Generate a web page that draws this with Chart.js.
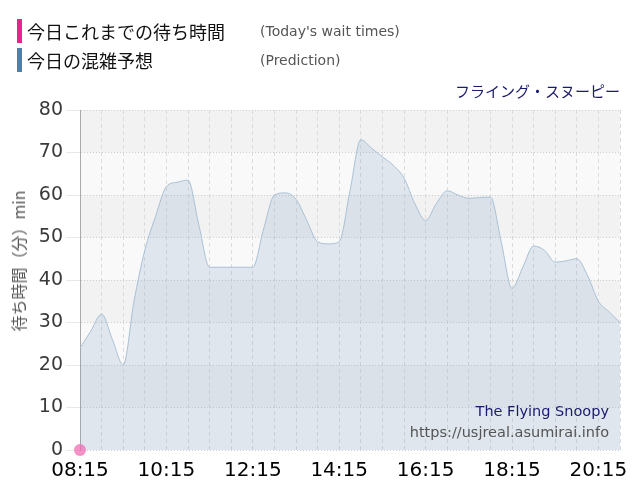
<!DOCTYPE html>
<html>
<head>
<meta charset="utf-8">
<script src="https://cdn.jsdelivr.net/npm/chart.js@4/dist/chart.umd.min.js"></script>
<style>
  body { margin: 0; background: #fff; font-family: "Noto Sans CJK JP", "DejaVu Sans", sans-serif; }
  #wrap { position: relative; width: 640px; height: 500px; }
  canvas { position: absolute; left: 0; top: 0; }
  .leg { position: absolute; left: 17px; height: 24px; line-height: 24px; font-size: 18px; color: #111; white-space: nowrap; }
  .leg .bar { display: inline-block; width: 5px; height: 24px; vertical-align: top; margin-right: 5px; }
  .leg .en { position: absolute; left: 243px; top: 0; font-size: 14px; color: #555; font-family: "DejaVu Sans", sans-serif; }
  #ride { position: absolute; right: 20px; top: 80px; font-size: 15px; color: #1a1a6e; white-space: nowrap; }
  #ytitle { position: absolute; left: 18px; top: 261px; transform: translate(-50%, -50%) rotate(-90deg); font-size: 16px; color: #555; white-space: nowrap; }
</style>
</head>
<body>
<div id="wrap">
  <canvas id="canvas" width="640" height="500"></canvas>
  <div class="leg" style="top:19px"><span class="bar" style="background:#f0208c"></span>今日これまでの待ち時間<span class="en">(Today's wait times)</span></div>
  <div class="leg" style="top:48px"><span class="bar" style="background:#4682b4"></span>今日の混雑予想<span class="en">(Prediction)</span></div>
  <div id="ride">フライング・スヌーピー</div>
  <div id="ytitle">待ち時間（分）min</div>
</div>
<script>
// times every 15 minutes, 08:15 - 20:45
var times = [];
for (var m = 8 * 60 + 15; m <= 20 * 60 + 45; m += 15) {
  var h = Math.floor(m / 60), mm = m % 60;
  times.push((h < 10 ? '0' : '') + h + ':' + (mm < 10 ? '0' : '') + mm);
}

// predicted wait (min)
var prediction = [24, 28, 32, 26, 20, 35, 47, 55, 62, 63, 63.5, 53, 43, 43, 43, 43, 43,
  52, 60, 60.5, 59, 54, 49, 48.5, 49, 61, 73, 71, 69, 67, 64, 58, 54, 58, 61,
  60, 59.2, 59.4, 59.5, 49, 38, 43, 48, 47, 44.2, 44.5, 45, 41, 35, 32.5, 30];

// today's actual wait (min), only first reading so far
var actual = [0];

var yTicks = [0, 10, 20, 30, 40, 50, 60, 70, 80];

var bands = {
  id: 'bands',
  beforeDraw: function(chart) {
    var ctx = chart.ctx, a = chart.chartArea, y = chart.scales.y;
    ctx.save();
    for (var i = 0; i < yTicks.length - 1; i++) {
      var top = y.getPixelForValue(yTicks[i + 1]), bot = y.getPixelForValue(yTicks[i]);
      ctx.fillStyle = (i % 2 == 0) ? '#f9f9f9' : '#f2f2f2';
      ctx.fillRect(a.left, top, a.right - a.left, bot - top);
    }
    ctx.restore();
  },
  afterDatasetsDraw: function(chart) {
    var ctx = chart.ctx, a = chart.chartArea;
    ctx.save();
    ctx.textAlign = 'right';
    ctx.font = '14.5px "DejaVu Sans"';
    ctx.fillStyle = '#1a1a6e';
    ctx.fillText('The Flying Snoopy', a.right - 11, 416);
    ctx.fillStyle = '#555';
    ctx.fillText('https://usjreal.asumirai.info', a.right - 11, 437);
    ctx.restore();
  }
};

var ctx = document.getElementById('canvas').getContext('2d');
var chart = new Chart(ctx, {
  type: 'line',
  data: {
    labels: times,
    datasets: [{
      label: 'Today',
      data: actual,
      showLine: false,
      pointRadius: 6,
      pointBackgroundColor: 'rgba(240,110,180,0.75)',
      pointBorderWidth: 0,
      clip: false,
      order: 0
    }, {
      label: 'Prediction',
      data: prediction,
      borderColor: '#a9c0d6',
      borderWidth: 1,
      backgroundColor: 'rgba(130,165,200,0.22)',
      fill: 'origin',
      pointRadius: 0,
      cubicInterpolationMode: 'monotone',
      order: 1
    }]
  },
  options: {
    responsive: false,
    animation: false,
    layout: { padding: { top: 110, right: 20, bottom: 8, left: 0 } },
    plugins: { legend: { display: false }, tooltip: { enabled: false } },
    scales: {
      x: {
        grid: {
          color: function(c) { return c.index % 2 == 0 && c.index > 0 ? '#dcdcdc' : 'transparent'; },
          drawTicks: false
        },
        border: { display: false, dash: [4, 3] },
        ticks: {
          autoSkip: false,
          maxRotation: 0,
          padding: 9,
          color: '#000',
          font: { family: 'DejaVu Sans', size: 20 },
          callback: function(v, i) { return i % 8 == 0 ? times[i] : ''; }
        },
        afterFit: function(s) { s.height = 42; }
      },
      y: {
        min: 0,
        max: 80,
        ticks: { stepSize: 10, padding: 3, color: '#3a3a3a', font: { family: 'DejaVu Sans', size: 19 } },
        grid: { color: '#cfcfcf', tickColor: '#e8e8e8', tickLength: 14, tickBorderDash: [] },
        border: { display: true, color: '#aaa', width: 1, dash: [1, 2] },
        afterFit: function(s) { s.width = 80; }
      }
    }
  },
  plugins: [bands]
});
</script>
</body>
</html>
